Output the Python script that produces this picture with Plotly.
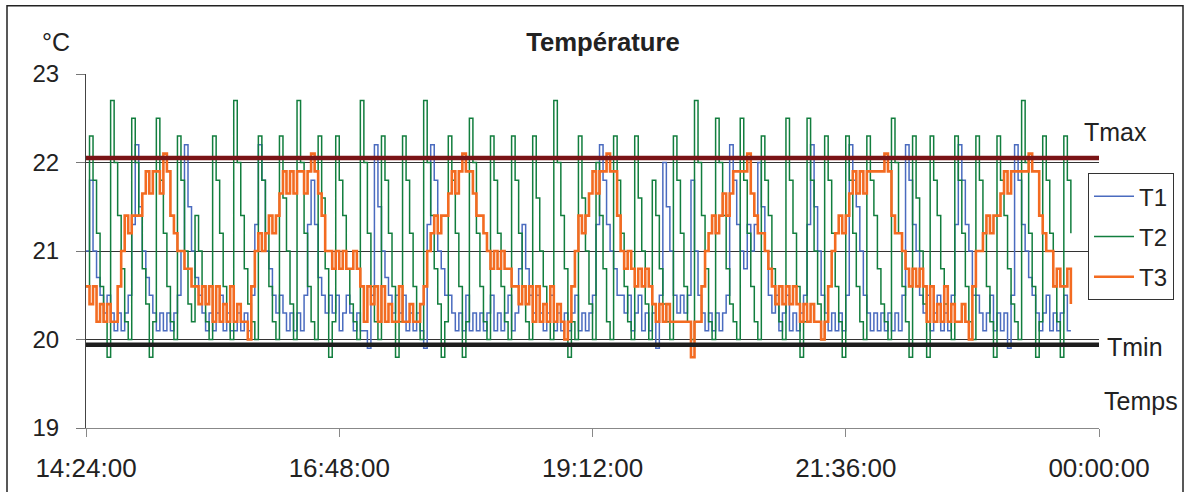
import plotly.graph_objects as go
import pandas as pd

# ---------------- data ----------------
START = "2000-01-01 14:24:00"
END = "2000-01-02 00:00:00"
SAMPLE_FREQ = "2min"
TICK_TIMES = ["2000-01-01 14:24:00", "2000-01-01 16:48:00", "2000-01-01 19:12:00",
              "2000-01-01 21:36:00", "2000-01-02 00:00:00"]
Y_TICKS = [19, 20, 21, 22, 23]
TMAX = 22.05
TMIN = 19.94

T1 = [
    21.0, 21.8, 21.0, 20.7, 20.5, 20.3, 20.5, 20.3, 20.1, 20.3,
    20.1, 20.3, 20.5, 21.3, 22.2, 21.5, 21.0, 20.7, 20.5, 20.3,
    20.1, 20.3, 20.1, 20.3, 20.1, 20.3, 20.5, 21.0, 22.2, 21.5,
    21.0, 20.7, 20.5, 20.3, 20.1, 20.3, 20.1, 20.3, 20.5, 20.1,
    20.3, 20.1, 20.1, 20.3, 20.1, 20.3, 20.1, 20.5, 21.3, 22.2,
    21.8, 21.0, 20.8, 20.5, 20.3, 20.5, 20.3, 20.1, 20.3, 20.1,
    20.3, 20.1, 20.5, 21.3, 21.8, 21.3, 20.7, 20.5, 20.3, 20.5,
    20.3, 20.5, 20.1, 20.3, 20.5, 20.3, 20.1, 20.3, 20.1, 20.1,
    19.9, 20.5, 22.2, 21.5, 21.0, 20.7, 20.5, 20.3, 20.5, 20.3,
    20.5, 20.1, 20.3, 20.1, 20.3, 20.1, 19.9, 21.3, 22.2, 21.8,
    21.0, 20.8, 20.5, 20.5, 20.3, 20.1, 20.3, 20.1, 20.5, 20.1,
    20.3, 20.1, 20.3, 20.1, 20.3, 20.5, 20.1, 20.3, 20.1, 20.3,
    20.5, 20.1, 20.3, 20.8, 21.3, 20.8, 20.5, 20.3, 20.5, 20.3,
    20.1, 20.3, 20.5, 20.1, 20.3, 20.1, 20.3, 20.1, 20.3, 20.5,
    20.1, 20.3, 20.1, 20.3, 20.5, 21.3, 22.2, 21.8, 21.3, 21.0,
    20.8, 20.5, 20.5, 20.3, 20.5, 20.1, 20.3, 20.5, 20.1, 20.3,
    20.1, 20.3, 19.9, 20.5, 22.0, 21.5, 21.0, 20.5, 20.3, 20.5,
    20.3, 20.5, 21.8, 21.0, 20.5, 20.3, 20.1, 20.3, 20.1, 20.3,
    20.1, 20.3, 20.5, 22.2, 21.8, 21.3, 21.0, 20.8, 21.3, 21.0,
    21.3, 22.0, 21.5, 21.0, 20.5, 20.3, 20.5, 20.1, 20.3, 20.5,
    20.1, 20.3, 20.1, 20.3, 20.5, 21.3, 22.2, 21.5, 21.0, 20.5,
    20.3, 20.1, 20.3, 20.1, 20.3, 20.1, 20.5, 22.2, 21.8, 21.5,
    21.0, 20.5, 20.3, 20.1, 20.3, 20.1, 20.3, 20.1, 20.3, 20.1,
    20.3, 20.1, 20.5, 22.2, 21.8, 21.3, 21.0, 20.5, 20.3, 20.5,
    20.1, 20.3, 20.5, 20.1, 20.3, 20.1, 20.5, 21.3, 22.2, 21.8,
    21.3, 21.0, 20.5, 20.5, 20.3, 20.1, 20.3, 20.5, 20.1, 20.3,
    20.1, 20.3, 19.9, 20.5, 22.2, 21.8, 21.3, 21.0, 20.7, 20.5,
    20.3, 20.1, 20.3, 20.5, 20.1, 20.3, 20.1, 20.3, 20.5, 20.1,
    20.1,
]

T2 = [
    20.6,
    22.3, 21.8, 21.2, 20.6, 20.2, 19.8,
    22.7, 22.0, 21.4, 20.8, 20.2, 20.0,
    22.5, 22.0, 21.4, 20.8, 20.4, 19.8, 20.2,
    22.5, 21.8, 21.2, 20.6, 20.2, 20.0,
    22.3, 21.8, 21.0, 20.4, 20.2,
    21.4, 21.0, 20.6, 20.2, 20.0,
    22.3, 21.8, 21.2, 20.6, 20.2, 20.0,
    22.7, 22.0, 21.4, 20.8, 20.4, 20.2, 20.0,
    22.3, 21.8, 21.2, 20.6, 20.2, 20.0,
    22.3, 21.6, 21.0, 20.4, 20.0,
    22.7, 22.0, 21.2, 20.6, 20.2, 20.0,
    22.3, 21.6, 20.8, 19.8, 20.2,
    22.3, 21.8, 21.4, 20.8, 20.4, 20.2, 20.0,
    22.7, 22.0, 21.2, 20.6, 20.2, 20.0,
    22.3, 21.8, 21.2, 20.6, 19.8, 20.2,
    22.3, 21.8, 21.2, 20.6, 20.2, 20.0,
    22.7, 22.0, 21.4, 20.8, 20.4, 19.8, 20.2,
    22.3, 21.8, 21.2, 20.6, 19.8, 20.2,
    22.5, 22.0, 21.2, 20.6, 20.2, 20.0,
    22.3, 21.8, 21.2, 20.6, 20.2, 20.0,
    22.3, 21.8, 21.2, 20.6, 20.2, 20.0,
    22.3, 21.6, 21.0, 20.6, 20.2, 20.0,
    22.7, 22.0, 21.4, 20.8, 19.8, 20.2, 20.0,
    22.3, 21.6, 21.0, 20.4, 20.0,
    22.0, 21.4, 20.8, 20.2, 20.0,
    22.3, 21.8, 21.2, 20.6, 20.2, 20.0,
    22.3, 21.6, 21.0, 20.4, 20.0,
    21.8, 21.4, 20.8, 20.4, 20.2, 20.0,
    22.3, 21.8, 21.2, 20.6, 20.2, 20.0,
    22.7, 22.0, 21.4, 20.8, 20.2, 20.0,
    22.5, 22.0, 21.4, 20.8, 20.4, 20.2, 20.0,
    22.5, 21.8, 21.2, 20.6, 20.2, 20.0,
    22.3, 21.8, 21.4, 20.8, 20.4, 20.2, 20.0,
    22.5, 21.8, 21.2, 20.6, 19.8, 20.2,
    22.5, 21.8, 21.0, 20.4, 20.0,
    22.3, 21.8, 21.2, 20.6, 20.2, 19.8,
    22.3, 21.8, 21.2, 20.6, 20.2, 20.0,
    22.3, 21.8, 21.4, 20.8, 20.4, 20.2, 20.0,
    22.5, 22.0, 21.2, 20.6, 20.2, 19.8,
    22.3, 21.6, 21.0, 20.4, 19.8,
    22.3, 21.8, 21.4, 20.8, 20.4, 20.2, 20.0,
    22.3, 21.8, 21.2, 20.6, 20.2, 20.0,
    22.3, 21.8, 21.2, 20.6, 20.2, 19.8,
    22.3, 21.8, 21.4, 20.8, 20.4, 20.2, 20.0,
    22.7, 22.0, 21.2, 20.6, 19.8, 20.2,
    22.3, 21.8, 21.2, 20.6, 20.2, 19.8,
    22.3, 21.8, 21.2,
]

T3 = [
    20.6, 20.4, 20.6, 20.2, 20.4, 20.2, 20.4, 20.2, 20.2, 20.6,
    21.0, 21.4, 21.2, 21.4, 21.4, 21.4, 21.65, 21.9, 21.65, 21.9,
    21.9, 21.65, 22.1, 21.9, 21.4, 21.2, 21.0, 21.0, 20.8, 20.8,
    20.6, 20.6, 20.4, 20.6, 20.4, 20.6, 20.2, 20.6, 20.2, 20.4,
    20.2, 20.6, 20.2, 20.4, 20.2, 20.2, 20.0, 20.6, 21.0, 21.2,
    21.0, 21.2, 21.4, 21.2, 21.4, 21.65, 21.9, 21.65, 21.9, 21.65,
    21.9, 21.9, 21.65, 21.9, 22.1, 21.9, 21.65, 21.4, 21.0, 21.0,
    20.8, 21.0, 20.8, 21.0, 20.8, 20.8, 21.0, 20.8, 20.6, 20.2,
    20.6, 20.4, 20.6, 20.2, 20.6, 20.2, 20.4, 20.2, 20.2, 20.6,
    20.2, 20.2, 20.4, 20.2, 20.2, 20.4, 20.6, 21.0, 21.2, 21.4,
    21.2, 21.4, 21.4, 21.65, 21.9, 21.65, 21.9, 22.1, 21.9, 21.9,
    21.65, 21.4, 21.4, 21.2, 21.0, 20.8, 21.0, 20.8, 21.0, 20.8,
    20.8, 20.6, 20.6, 20.4, 20.6, 20.4, 20.6, 20.2, 20.6, 20.2,
    20.4, 20.2, 20.6, 20.2, 20.4, 20.2, 20.0, 20.2, 20.6, 21.0,
    21.4, 21.2, 21.4, 21.65, 21.9, 21.65, 21.9, 21.9, 22.1, 21.9,
    21.9, 21.4, 21.0, 20.8, 21.0, 20.8, 20.6, 20.8, 20.6, 20.8,
    20.6, 20.4, 20.2, 20.4, 20.2, 20.4, 20.2, 20.2, 20.2, 20.2,
    20.2, 20.2, 19.8, 20.2, 20.2, 20.6, 21.0, 21.2, 21.4, 21.2,
    21.4, 21.65, 21.4, 21.65, 21.9, 21.9, 21.9, 21.9, 22.1, 21.65,
    21.4, 21.2, 21.2, 21.0, 20.8, 20.6, 20.4, 20.6, 20.4, 20.6,
    20.4, 20.6, 20.4, 20.2, 20.4, 20.2, 20.4, 20.2, 20.2, 20.0,
    20.2, 20.6, 21.0, 21.2, 21.4, 21.2, 21.4, 21.65, 21.9, 21.65,
    21.9, 21.65, 21.9, 21.9, 21.9, 21.9, 21.9, 22.1, 21.9, 21.4,
    21.2, 21.2, 21.0, 20.8, 20.6, 20.8, 20.6, 20.8, 20.6, 20.2,
    20.6, 20.2, 20.4, 20.2, 20.6, 20.2, 20.4, 20.2, 20.2, 20.4,
    20.2, 20.0, 20.6, 21.0, 21.0, 21.2, 21.4, 21.2, 21.4, 21.4,
    21.65, 21.9, 21.65, 21.9, 21.9, 21.9, 21.9, 21.9, 22.1, 21.9,
    21.9, 21.4, 21.2, 21.0, 21.0, 20.6, 20.8, 20.6, 20.6, 20.8,
    20.4,
]

SERIES = [("T1", T1, "#4A6BBF", 1.5), ("T2", T2, "#127E3E", 1.5), ("T3", T3, "#F36B21", 2.6)]

# ---------------- layout geometry (pixels of the 1188x492 canvas) ----------------
W, H = 1188, 492
PL, PR, PT, PB = 86, 1099, 73.5, 428.5   # plot area edges


def px(xp):
    return (xp - PL) / (PR - PL)


def py(yp):
    return (PB - yp) / (PB - PT)


FONT = "Arial, 'Liberation Sans', sans-serif"

fig = go.Figure()
for name, vals, color, width in SERIES:
    fig.add_trace(go.Scatter(
        x=pd.date_range(START, periods=len(vals), freq=SAMPLE_FREQ),
        y=vals, mode="lines", name=name, legendgroup=name,
        line=dict(color=color, width=width, shape="hv"),
    ))

shapes = [
    dict(type="line", xref="paper", yref="y", x0=0, x1=1, y0=TMAX, y1=TMAX,
         line=dict(color="#7A1416", width=4.5), layer="above"),
    dict(type="line", xref="paper", yref="y", x0=0, x1=1, y0=TMIN, y1=TMIN,
         line=dict(color="#1E1E1E", width=4.5), layer="above"),
    dict(type="rect", xref="paper", yref="paper", x0=px(7), x1=px(1183), y0=py(500), y1=py(5),
         line=dict(color="#222", width=1.5), fillcolor="rgba(0,0,0,0)", layer="above"),
]

annotations = [
    dict(text="°C", x=px(56), y=py(41)),
    dict(text="Tmax", x=px(1115), y=py(132)),
    dict(text="Tmin", x=px(1135), y=py(347)),
    dict(text="Temps", x=px(1141), y=py(401)),
]
for a in annotations:
    a.update(xref="paper", yref="paper", showarrow=False, xanchor="center", yanchor="middle",
             font=dict(family=FONT, size=25, color="#222"))

fig.update_layout(
    width=W, height=H,
    margin=dict(l=PL, r=W - PR, t=PT, b=H - PB, pad=0, autoexpand=False),
    paper_bgcolor="white", plot_bgcolor="white",
    font=dict(family=FONT, color="#222"),
    title=dict(text="<b>Température</b>", x=603 / W, y=1 - 42 / H, xanchor="center", yanchor="middle",
               font=dict(family=FONT, size=25.7, color="#222")),
    showlegend=True,
    legend=dict(x=px(1088), y=py(173), xanchor="left", yanchor="top",
                bgcolor="white", bordercolor="#333", borderwidth=1,
                font=dict(family=FONT, size=24, color="#222"),
                traceorder="grouped", tracegroupgap=6, itemwidth=40),
    xaxis=dict(type="date", range=[START, END], tickvals=TICK_TIMES, tickformat="%H:%M:%S",
               showgrid=False, zeroline=False, showline=True, linecolor="#888", linewidth=1.2,
               ticks="outside", ticklen=8, tickcolor="#888", tickwidth=1.2,
               ticklabelstandoff=9,
               tickfont=dict(family=FONT, size=26, color="#222")),
    yaxis=dict(range=[19, 23], tickvals=Y_TICKS, showgrid=True, gridcolor="#333", gridwidth=1,
               zeroline=False, showline=True, linecolor="#444", linewidth=1,
               ticks="outside", ticklen=9, tickcolor="#777", tickwidth=1,
               ticklabelstandoff=12,
               tickfont=dict(family=FONT, size=24, color="#222")),
    shapes=shapes, annotations=annotations,
)

fig.write_html("out.html", config={"displayModeBar": False},
               post_script="document.body.style.margin='0';document.body.style.overflow='hidden';")
